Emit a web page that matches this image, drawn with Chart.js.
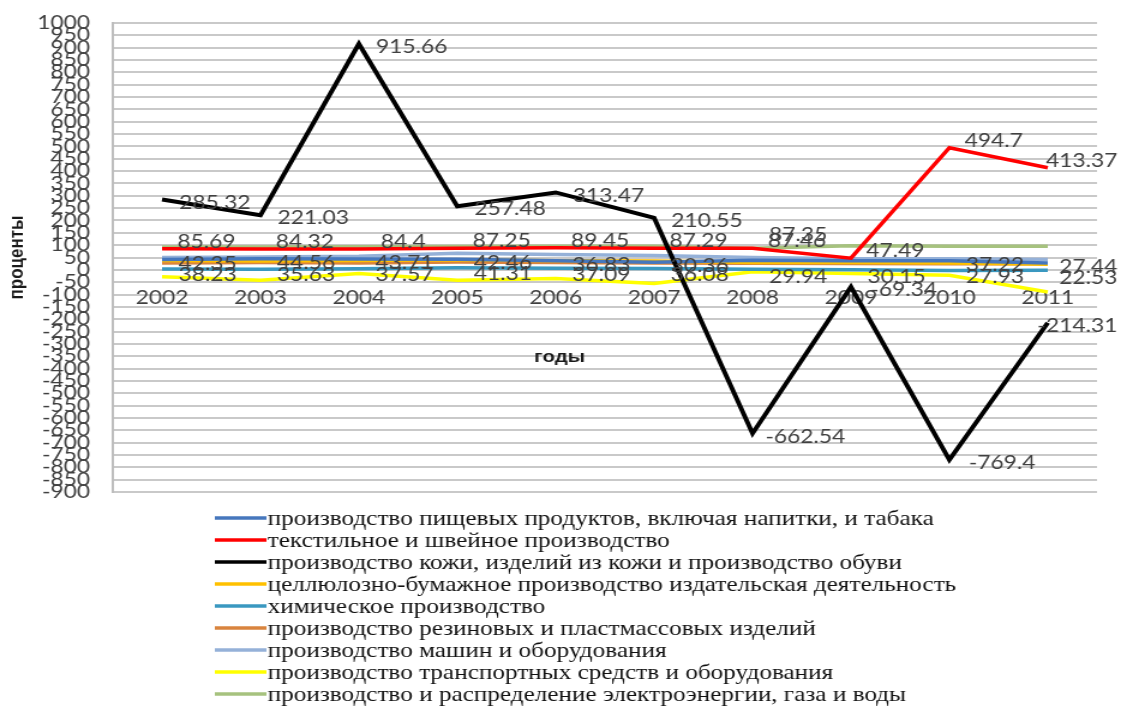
<!DOCTYPE html>
<html lang="ru">
<head>
<meta charset="utf-8">
<title>Индексы производства по видам деятельности, 2002–2011</title>
<script src="https://cdn.jsdelivr.net/npm/chart.js@4.4.1/dist/chart.umd.min.js"></script>
<style>
  html, body { margin: 0; padding: 0; background: #ffffff; overflow: hidden; }
  /* the chart is laid out on a narrower canvas and widened as a whole */
  #wrap { width: 934px; height: 706px; transform: scaleX(1.2002); transform-origin: 0 0; }
  #chart { display: block; }
</style>
</head>
<body>
<div id="wrap"><canvas id="chart" width="934" height="706"></canvas></div>
<script>
// Years on the category axis
const years = ['2002', '2003', '2004', '2005', '2006', '2007', '2008', '2009', '2010', '2011'];

// Series values, percent
const food      = [42.35, 44.56, 43.71, 42.46, 36.83, 30.36, 38.5, 36.5, 37.22, 27.44];
const textile   = [85.69, 84.32, 84.4, 87.25, 89.45, 87.29, 87.46, 47.49, 494.7, 413.37];
const leather   = [285.32, 221.03, 915.66, 257.48, 313.47, 210.55, -662.54, -69.34, -769.4, -214.31];
const pulp      = [38.23, 35.63, 37.57, 41.31, 37.09, 36.08, 29.94, 30.15, 27.93, 22.53];
const chemical  = [3, 2, 4, 8, 6, 5, 2, 0, -3, -2];
const rubber    = [28, 30, 28, 32, 30, 28, 27, 26, 25, 25];
const machines  = [50, 52, 55, 67, 62, 58, 50, 45, 45, 42];
const transport = [-28, -42, -15, -42, -35, -55, -8, -15, -22, -90];
const energy    = [93, 93, 94, 95, 96, 96, 87.35, 98, 96, 96];

// Which points carry a value label
const foodShown    = [true, true, true, true, true, true, false, false, true, true];
const allShown     = [true, true, true, true, true, true, true, true, true, true];
const energyShown  = [false, false, false, false, false, false, true, false, false, false];

// Y axis ticks
const yMin = -900;
const yMax = 1000;
const yStep = 50;

const seriesNames = [
  'производство пищевых продуктов, включая напитки, и табака',
  'текстильное и швейное производство',
  'производство кожи, изделий из кожи и производство обуви',
  'целлюлозно-бумажное производство издательская деятельность',
  'химическое производство',
  'производство резиновых и пластмассовых изделий',
  'производство машин и оборудования',
  'производство транспортных средств и оборудования',
  'производство и распределение электроэнергии, газа и воды'
];

const LABEL_FONT = '19px Lato, "Open Sans", sans-serif';
const LABEL_COLOR = '#404040';

function series(i, data, color, extra) {
  return Object.assign({
    label: seriesNames[i],
    data: data,
    borderColor: color,
    backgroundColor: color,
    borderWidth: 3.5,
    pointRadius: 0,
    pointHoverRadius: 0,
    tension: 0,
    fill: false,
    order: 5
  }, extra || {});
}

const datasets = [
  series(0, food, '#4677BD', { valueLabels: { shown: foodShown, dx: 38, dy: 4 } }),
  series(1, textile, '#FF0000', { order: 1, valueLabels: { shown: allShown, dx: 37, dy: -7 } }),
  series(2, leather, '#000000', { order: 0, borderWidth: 4, valueLabels: { shown: allShown, dx: 44, dy: 3 } }),
  series(3, pulp, '#FFC000', { valueLabels: { shown: allShown, dx: 38, dy: 14 } }),
  series(4, chemical, '#3A98C0'),
  series(5, rubber, '#D9843E'),
  series(6, machines, '#95B1D8'),
  series(7, transport, '#FFFF00'),
  series(8, energy, '#A6C27E', { order: 2, valueLabels: { shown: energyShown, dx: 38, dy: -13 } })
];

// Value labels next to the points, kept inside the canvas
const valueLabels = {
  id: 'valueLabels',
  afterDatasetsDraw(chart) {
    const ctx = chart.ctx;
    const maxRight = chart.width - 3;
    ctx.save();
    ctx.font = LABEL_FONT;
    ctx.fillStyle = LABEL_COLOR;
    ctx.textAlign = 'center';
    ctx.textBaseline = 'middle';
    chart.data.datasets.forEach((ds, di) => {
      const cfg = ds.valueLabels;
      if (!cfg) return;
      const meta = chart.getDatasetMeta(di);
      meta.data.forEach((pt, j) => {
        if (!cfg.shown[j]) return;
        const text = String(ds.data[j]);
        const half = ctx.measureText(text).width / 2;
        const cx = Math.min(pt.x + cfg.dx, maxRight - half);
        ctx.fillText(text, cx, pt.y + cfg.dy);
      });
    });
    ctx.restore();
  }
};

// Title of the category axis, under the year labels
const xTitle = {
  id: 'xTitle',
  afterDraw(chart) {
    const area = chart.chartArea;
    const y0 = chart.scales.y.getPixelForValue(0);
    const ctx = chart.ctx;
    ctx.save();
    ctx.font = 'bold 17px "Liberation Sans", Arial, sans-serif';
    ctx.fillStyle = '#1a1a1a';
    ctx.textAlign = 'center';
    ctx.textBaseline = 'middle';
    ctx.fillText('годы', area.left + area.width * 0.454, y0 + 87);
    ctx.restore();
  }
};

// Single-column legend under the plot
const legendColumn = {
  id: 'legendColumn',
  afterDraw(chart) {
    const ctx = chart.ctx;
    ctx.save();
    ctx.font = '21px "Liberation Serif", "Times New Roman", serif';
    ctx.textBaseline = 'middle';
    ctx.textAlign = 'left';
    chart.data.datasets.forEach((ds, i) => {
      const y = 518 + i * 22;
      ctx.strokeStyle = ds.borderColor;
      ctx.lineWidth = 3.5;
      ctx.beginPath();
      ctx.moveTo(179, y);
      ctx.lineTo(222, y);
      ctx.stroke();
      ctx.fillStyle = '#111111';
      ctx.fillText(ds.label, 223, y + 1);
    });
    ctx.restore();
  }
};

new Chart(document.getElementById('chart'), {
  type: 'line',
  data: { labels: years, datasets: datasets },
  plugins: [valueLabels, xTitle, legendColumn],
  options: {
    responsive: false,
    devicePixelRatio: 1,
    animation: false,
    layout: { padding: { top: 23, right: 20, bottom: 214, left: 0 } },
    plugins: {
      legend: { display: false },
      tooltip: { enabled: false },
      title: { display: false }
    },
    scales: {
      x: {
        type: 'category',
        position: { y: 0 },
        offset: true,
        grid: { display: false },
        border: { display: false },
        ticks: {
          font: { family: 'Lato, "Open Sans", sans-serif', size: 19 },
          color: LABEL_COLOR,
          padding: 9,
          maxRotation: 0,
          autoSkip: false
        }
      },
      y: {
        min: yMin,
        max: yMax,
        afterFit(scale) { scale.width = 94; },
        grid: {
          color: '#c9c9c9',
          lineWidth: 2,
          drawTicks: true,
          tickLength: 17,
          tickColor: 'rgba(0,0,0,0)'
        },
        border: { display: true, color: '#bdbdbd', width: 2 },
        ticks: {
          stepSize: yStep,
          maxTicksLimit: 100,
          autoSkip: false,
          callback: (value) => String(value),
          font: { family: 'Lato, "Open Sans", sans-serif', size: 19 },
          color: LABEL_COLOR,
          padding: 2
        },
        title: {
          display: true,
          text: 'проценты',
          font: { family: '"Liberation Sans", Arial, sans-serif', size: 17, weight: 'bold' },
          color: '#1a1a1a',
          padding: { top: 4, bottom: 0 }
        }
      }
    }
  }
});
</script>
</body>
</html>
